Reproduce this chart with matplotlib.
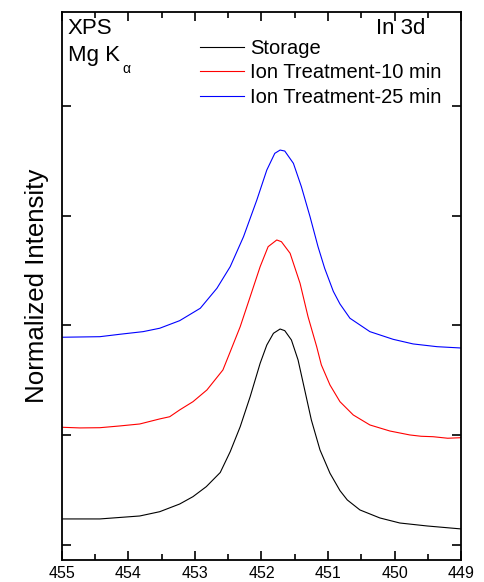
import numpy as np
import matplotlib.pyplot as plt

plt.rcParams['font.family'] = ['Liberation Sans', 'DejaVu Sans']

# binding energy (eV) and normalized intensity
storage_ev = [455.00, 454.43, 453.83, 453.53, 453.23, 453.03, 452.83, 452.62, 452.47,
              452.32, 452.17, 452.02, 451.92, 451.82, 451.72, 451.65, 451.55, 451.45,
              451.35, 451.25, 451.12, 450.97, 450.82, 450.71, 450.52, 450.22, 449.92,
              449.51, 449.00]
storage = [0.237, 0.237, 0.264, 0.303, 0.373, 0.440, 0.531, 0.660, 0.850,
           1.077, 1.351, 1.655, 1.821, 1.928, 1.967, 1.952, 1.867, 1.685,
           1.412, 1.138, 0.865, 0.653, 0.495, 0.410, 0.319, 0.246, 0.200,
           0.173, 0.146]

ion10_ev = [455.00, 454.73, 454.43, 454.13, 453.83, 453.53, 453.38, 453.23, 453.03,
            452.82, 452.58, 452.47, 452.32, 452.17, 452.02, 451.90, 451.77, 451.70,
            451.57, 451.42, 451.30, 451.17, 451.10, 450.97, 450.82, 450.62, 450.37,
            450.07, 449.77, 449.60, 449.42, 449.20, 449.00]
ion10 = [1.072, 1.066, 1.068, 1.084, 1.102, 1.148, 1.168, 1.230, 1.305,
         1.412, 1.594, 1.760, 1.988, 2.261, 2.535, 2.717, 2.778, 2.762,
         2.657, 2.383, 2.079, 1.806, 1.640, 1.457, 1.305, 1.184, 1.093,
         1.038, 1.002, 0.990, 0.986, 0.972, 0.977]

ion25_ev = [455.00, 454.43, 454.13, 453.78, 453.53, 453.23, 452.92, 452.67, 452.47,
            452.27, 452.07, 451.92, 451.80, 451.72, 451.65, 451.52, 451.40, 451.27,
            451.15, 451.05, 450.92, 450.82, 450.67, 450.37, 450.02, 449.72, 449.36,
            449.00]
ion25 = [1.892, 1.897, 1.919, 1.943, 1.974, 2.043, 2.156, 2.338, 2.535,
         2.808, 3.142, 3.415, 3.567, 3.597, 3.588, 3.476, 3.263, 2.990,
         2.717, 2.520, 2.310, 2.195, 2.065, 1.943, 1.873, 1.831, 1.806,
         1.794]

fig = plt.figure(figsize=(4.84, 5.82), dpi=100)
ax = fig.add_axes([0.128, 0.0378, 0.8245, 0.9415])

ax.plot(storage_ev, storage, color='black', lw=0.8, label='Storage')
ax.plot(ion10_ev, ion10, color='red', lw=0.8, label='Ion Treatment-10 min')
ax.plot(ion25_ev, ion25, color='blue', lw=0.8, label='Ion Treatment-25 min')

ax.set_xlim(455, 449)
ax.set_ylim(-0.137, 4.854)
ax.set_xticks(np.arange(449, 456))
ax.set_xticks(np.arange(449.5, 455, 1.0), minor=True)
ax.set_yticks([0, 1, 2, 3, 4])
ax.set_yticklabels([])
ax.tick_params(which='both', direction='in', top=True, right=True, width=1.2)
ax.tick_params(which='major', length=6.5, labelsize=11.5, pad=4.5)
ax.tick_params(which='minor', length=4)
for s in ax.spines.values():
    s.set_linewidth(1.3)

ax.set_ylabel('Normalized Intensity', fontsize=18.6, labelpad=5)

ax.text(0.015, 0.99, 'XPS', transform=ax.transAxes, fontsize=16, va='top', ha='left')
ax.text(0.015, 0.94, 'Mg K', transform=ax.transAxes, fontsize=16, va='top', ha='left')
ax.text(0.152, 0.888, 'α', transform=ax.transAxes, fontsize=10, va='baseline', ha='left')
ax.text(0.91, 0.99, 'In 3d', transform=ax.transAxes, fontsize=16, va='top', ha='right')

ax.legend(loc='upper left', bbox_to_anchor=(0.345, 0.951), frameon=False, fontsize=14.5,
          handlelength=2.2, handletextpad=0.3, labelspacing=0.27, borderpad=0,
          borderaxespad=0)

fig.savefig('out.png', dpi=100)
